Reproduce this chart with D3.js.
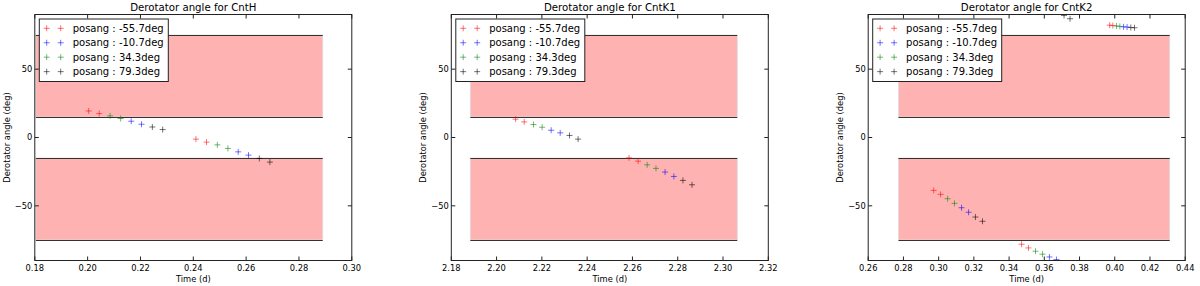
<!DOCTYPE html>
<html>
<head>
<meta charset="utf-8">
<script src="https://cdn.jsdelivr.net/npm/d3@7"></script>
<style>
  html, body { margin: 0; padding: 0; background: #fff; }
  #chart { width: 1200px; height: 286px; }
  text { font-family: "DejaVu Sans", sans-serif; fill: #000; }
</style>
</head>
<body>
<div id="chart"></div>
<script>
// legend entries (one per position angle)
const posangLabels = ["posang : -55.7deg", "posang : -10.7deg", "posang : 34.3deg", "posang : 79.3deg"];
const posangColors = ["#ff0000", "#0000ff", "#008000", "#000000"];

const titles = ["Derotator angle for CntH", "Derotator angle for CntK1", "Derotator angle for CntK2"];
const xDomains = [[0.18, 0.30], [2.18, 2.32], [0.26, 0.44]];
const yDomain = [-90, 90];
const yTicks = [-50, 0, 50];
const forbiddenBands = [[15, 75], [-75, -15]];

// CntH
const timesH = [0.2004, 0.2044, 0.2085, 0.2125, 0.2165, 0.2204, 0.2245, 0.2284,
                0.2410, 0.2450, 0.2491, 0.2531, 0.2570, 0.2609, 0.2650, 0.2690];
const anglesH = [19.4, 17.5, 15.8, 13.9, 11.9, 9.7, 7.7, 5.8,
                 -1.2, -3.4, -5.4, -8.0, -10.5, -12.9, -15.3, -18.0];
const seriesH = [0, 0, 2, 2, 1, 1, 3, 3, 0, 0, 2, 2, 1, 1, 3, 3];

// CntK1
const timesK1 = [2.2084, 2.2122, 2.2163, 2.2201, 2.2241, 2.2281, 2.2322, 2.2360,
                 2.2585, 2.2625, 2.2665, 2.2704, 2.2744, 2.2783, 2.2823, 2.2863];
const anglesK1 = [13.4, 11.4, 9.5, 7.5, 5.3, 3.4, 1.5, -1.2,
                  -14.9, -17.3, -20.0, -22.6, -25.3, -28.5, -31.4, -34.6];
const seriesK1 = [0, 0, 2, 2, 1, 1, 3, 3, 0, 0, 2, 2, 1, 1, 3, 3];

// CntK2
const timesK2 = [0.2972, 0.3011, 0.3051, 0.3090, 0.3130, 0.3170, 0.3209, 0.3249,
                 0.3471, 0.3510, 0.3550, 0.3590, 0.3629, 0.3669, 0.3712, 0.3746,
                 0.3971, 0.3989, 0.4010, 0.4029, 0.4050, 0.4070, 0.4091, 0.4112];
const anglesK2 = [-38.7, -41.6, -44.8, -48.2, -51.4, -54.7, -58.2, -61.3,
                  -78.1, -80.8, -83.2, -85.4, -87.4, -89.3, 89.3, 86.9,
                  82.2, 81.9, 81.6, 81.3, 81.0, 80.8, 80.5, 80.3];
const seriesK2 = [0, 0, 2, 2, 1, 1, 3, 3, 0, 0, 2, 2, 1, 1, 3, 3, 0, 0, 2, 2, 1, 1, 3, 3];

const panelTimes = [timesH, timesK1, timesK2];
const panelAngles = [anglesH, anglesK1, anglesK2];
const panelSeries = [seriesH, seriesK1, seriesK2];

const svg = d3.select("#chart").append("svg")
  .attr("width", 1200)
  .attr("height", 286);

const lefts = [34.8, 451.3, 868.2];
const plotW = 317;
const plotTop = 14.5, plotBottom = 260.5;

function plus(g, x, y, color, r) {
  g.append("path")
    .attr("d", `M${x - r},${y}H${x + r}M${x},${y - r}V${y + r}`)
    .attr("stroke", color)
    .attr("stroke-opacity", 0.55)
    .attr("stroke-width", 1)
    .attr("fill", "none");
}

titles.forEach((title, i) => {
  const x = d3.scaleLinear().domain(xDomains[i]).range([lefts[i], lefts[i] + plotW]);
  const y = d3.scaleLinear().domain(yDomain).range([plotBottom, plotTop]);
  const g = svg.append("g");

  g.append("clipPath").attr("id", "clip" + i)
    .append("rect")
    .attr("x", lefts[i]).attr("y", plotTop)
    .attr("width", plotW).attr("height", plotBottom - plotTop);

  const plot = g.append("g").attr("clip-path", `url(#clip${i})`);

  // shaded bands spanning the observation +- 0.02 d
  const [t0, t1] = d3.extent(panelTimes[i]);
  forbiddenBands.forEach(([lo, hi]) => {
    plot.append("rect")
      .attr("x", x(t0 - 0.02)).attr("y", y(hi))
      .attr("width", x(t1 + 0.02) - x(t0 - 0.02))
      .attr("height", y(lo) - y(hi))
      .attr("fill", "#ffb2b2")
      .attr("stroke", "#dddddd")
      .attr("stroke-width", 0.8);
    [lo, hi].forEach(v => {
      plot.append("line")
        .attr("x1", x(t0 - 0.02)).attr("x2", x(t1 + 0.02))
        .attr("y1", Math.round(y(v)) + 0.5).attr("y2", Math.round(y(v)) + 0.5)
        .attr("stroke", "#333").attr("stroke-width", 1);
    });
  });

  // points
  panelTimes[i].forEach((t, k) => {
    plus(plot, x(t), y(panelAngles[i][k]), posangColors[panelSeries[i][k]], 3);
  });

  // frame
  g.append("rect")
    .attr("x", lefts[i]).attr("y", plotTop)
    .attr("width", plotW).attr("height", plotBottom - plotTop)
    .attr("fill", "none").attr("stroke", "#222").attr("stroke-width", 1);

  // ticks (inward, all four sides)
  const xTicks = d3.range(xDomains[i][0], xDomains[i][1] + 1e-9, 0.02);
  xTicks.forEach(v => {
    g.append("line").attr("x1", x(v)).attr("x2", x(v)).attr("y1", plotBottom).attr("y2", plotBottom - 4)
      .attr("stroke", "#222");
    g.append("line").attr("x1", x(v)).attr("x2", x(v)).attr("y1", plotTop).attr("y2", plotTop + 4)
      .attr("stroke", "#222");
    g.append("text")
      .attr("x", x(v)).attr("y", 270.5)
      .attr("text-anchor", "middle")
      .style("font-size", "8.3px")
      .text(d3.format(".2f")(v));
  });
  yTicks.forEach(v => {
    g.append("line").attr("x1", lefts[i]).attr("x2", lefts[i] + 4).attr("y1", y(v)).attr("y2", y(v))
      .attr("stroke", "#222");
    g.append("line").attr("x1", lefts[i] + plotW).attr("x2", lefts[i] + plotW - 4).attr("y1", y(v)).attr("y2", y(v))
      .attr("stroke", "#222");
    g.append("text")
      .attr("x", lefts[i] - 2.5).attr("y", y(v))
      .attr("dy", "0.35em")
      .attr("text-anchor", "end")
      .style("font-size", "8.3px")
      .text(d3.format("d")(v).replace("-", "\u2212"));
  });

  // labels
  g.append("text")
    .attr("x", lefts[i] + plotW / 2).attr("y", 11)
    .attr("text-anchor", "middle")
    .style("font-size", "10.2px")
    .text(title);
  g.append("text")
    .attr("x", lefts[i] + plotW / 2).attr("y", 282)
    .attr("text-anchor", "middle")
    .style("font-size", "8.3px")
    .text("Time (d)");
  g.append("text")
    .attr("transform", `translate(${lefts[i] - 28},${(plotTop + plotBottom) / 2}) rotate(-90)`)
    .attr("text-anchor", "middle")
    .attr("dy", "0.35em")
    .style("font-size", "8.3px")
    .text("Derotator angle (deg)");

  // legend
  const lx = lefts[i] + 4.5, ly = plotTop + 4.5;
  const leg = g.append("g");
  leg.append("rect")
    .attr("x", lx).attr("y", ly).attr("width", 129).attr("height", 62.5)
    .attr("fill", "#fff").attr("stroke", "#222").attr("stroke-width", 1);
  posangLabels.forEach((lab, k) => {
    const ry = ly + 9.3 + k * 14.45;
    plus(leg, lx + 7.4, ry, posangColors[k], 3);
    plus(leg, lx + 21.4, ry, posangColors[k], 3);
    leg.append("text")
      .attr("x", lx + 33.4).attr("y", ry)
      .attr("dy", "0.35em")
      .style("font-size", "10px")
      .text(lab);
  });
});
</script>
</body>
</html>
